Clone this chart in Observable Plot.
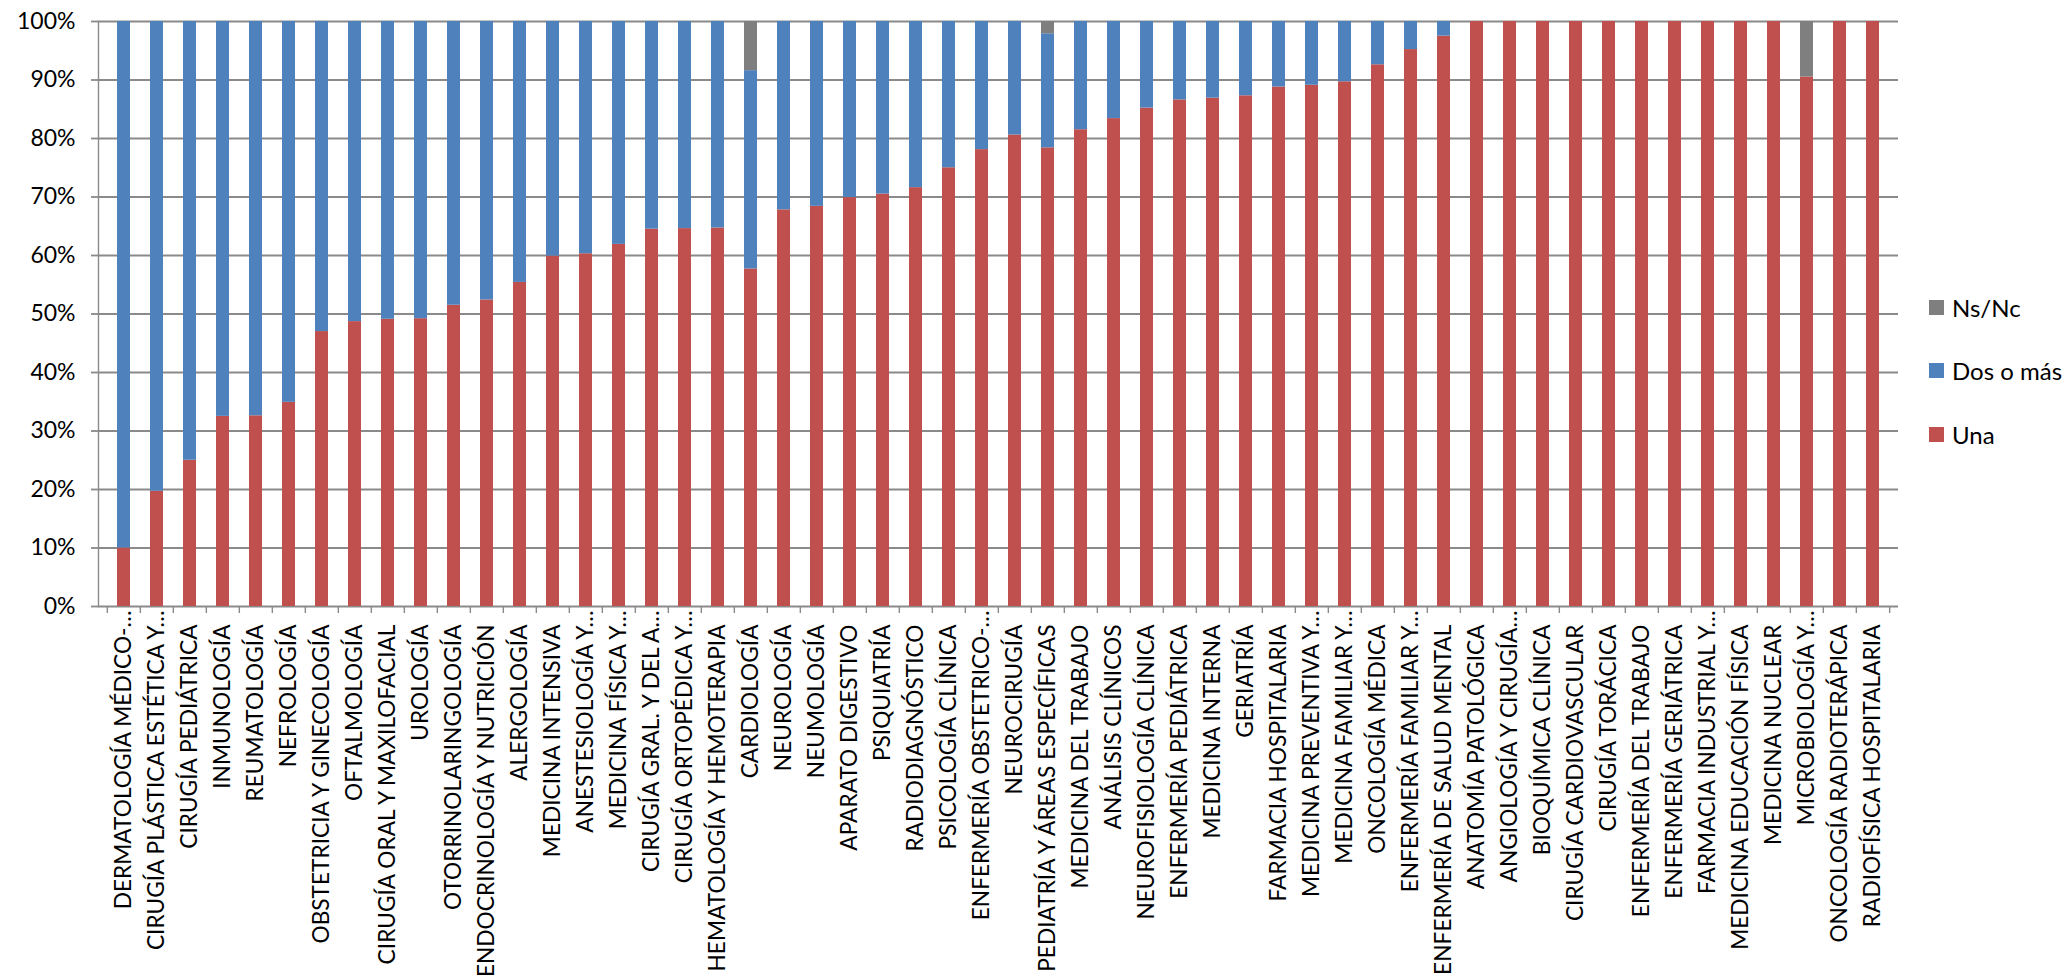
<!DOCTYPE html>
<html>
<head>
<meta charset="utf-8">
<script src="https://cdn.jsdelivr.net/npm/d3@7"></script>
<script src="https://cdn.jsdelivr.net/npm/@observablehq/plot@0.6"></script>
<style>
  body { margin: 0; background: #fff; }
  #wrap { position: relative; width: 2065px; height: 977px; overflow: hidden; }
  #wrap svg { position: absolute; left: 0; top: 0; }
  #legend { position: absolute; left: 1929px; top: 0; font-family: Lato, "Open Sans", sans-serif; font-size: 24px; color: #000; }
  .item { position: absolute; display: flex; align-items: center; height: 30px; white-space: nowrap; }
  .sw { width: 15px; height: 15px; margin-right: 8px; flex: none; }
</style>
</head>
<body>
<div id="wrap"><div id="legend"></div></div>
<script>
const categories = [
  "DERMATOLOGÍA MÉDICO-…", "CIRUGÍA PLÁSTICA ESTÉTICA Y…", "CIRUGÍA PEDIÁTRICA", "INMUNOLOGÍA",
  "REUMATOLOGÍA", "NEFROLOGÍA", "OBSTETRICIA Y GINECOLOGÍA", "OFTALMOLOGÍA",
  "CIRUGÍA ORAL Y MAXILOFACIAL", "UROLOGÍA", "OTORRINOLARINGOLOGÍA", "ENDOCRINOLOGÍA Y NUTRICIÓN",
  "ALERGOLOGÍA", "MEDICINA INTENSIVA", "ANESTESIOLOGÍA Y…", "MEDICINA FÍSICA Y…",
  "CIRUGÍA GRAL. Y DEL A…", "CIRUGÍA ORTOPÉDICA Y…", "HEMATOLOGÍA Y HEMOTERAPIA", "CARDIOLOGÍA",
  "NEUROLOGÍA", "NEUMOLOGÍA", "APARATO DIGESTIVO", "PSIQUIATRÍA",
  "RADIODIAGNÓSTICO", "PSICOLOGÍA CLÍNICA", "ENFERMERÍA OBSTETRICO-…", "NEUROCIRUGÍA",
  "PEDIATRÍA Y ÁREAS ESPECÍFICAS", "MEDICINA DEL TRABAJO", "ANÁLISIS CLÍNICOS", "NEUROFISIOLOGÍA CLÍNICA",
  "ENFERMERÍA PEDIÁTRICA", "MEDICINA INTERNA", "GERIATRÍA", "FARMACIA HOSPITALARIA",
  "MEDICINA PREVENTIVA Y…", "MEDICINA FAMILIAR Y…", "ONCOLOGÍA MÉDICA", "ENFERMERÍA FAMILIAR Y…",
  "ENFERMERÍA DE SALUD MENTAL", "ANATOMÍA PATOLÓGICA", "ANGIOLOGÍA Y CIRUGÍA…", "BIOQUÍMICA CLÍNICA",
  "CIRUGÍA CARDIOVASCULAR", "CIRUGÍA TORÁCICA", "ENFERMERÍA DEL TRABAJO", "ENFERMERÍA GERIÁTRICA",
  "FARMACIA INDUSTRIAL Y…", "MEDICINA EDUCACIÓN FÍSICA", "MEDICINA NUCLEAR", "MICROBIOLOGÍA Y…",
  "ONCOLOGÍA RADIOTERÁPICA", "RADIOFÍSICA HOSPITALARIA"
];
// percentages
const una = [
  10, 19.7, 25, 32.5, 32.6, 34.9, 47.0, 48.7,
  49.1, 49.2, 51.5, 52.4, 55.4, 59.9, 60.3, 61.9,
  64.5, 64.6, 64.7, 57.7, 67.8, 68.4, 69.9, 70.5,
  71.6, 75.0, 78.1, 80.6, 78.4, 81.5, 83.4, 85.2,
  86.6, 86.9, 87.3, 88.8, 89.1, 89.7, 92.6, 95.2,
  97.5, 100, 100, 100, 100, 100, 100, 100,
  100, 100, 100, 90.5, 100, 100
];
const dos = [
  90, 80.3, 75, 67.5, 67.4, 65.1, 53.0, 51.3,
  50.9, 50.8, 48.5, 47.6, 44.6, 40.1, 39.7, 38.1,
  35.5, 35.4, 35.3, 33.9, 32.2, 31.6, 30.1, 29.5,
  28.4, 25.0, 21.9, 19.4, 19.5, 18.5, 16.6, 14.8,
  13.4, 13.1, 12.7, 11.2, 10.9, 10.3, 7.4, 4.8,
  2.5, 0, 0, 0, 0, 0, 0, 0,
  0, 0, 0, 0, 0, 0
];
const ns = [
  0, 0, 0, 0, 0, 0, 0, 0,
  0, 0, 0, 0, 0, 0, 0, 0,
  0, 0, 0, 8.4, 0, 0, 0, 0,
  0, 0, 0, 0, 2.1, 0, 0, 0,
  0, 0, 0, 0, 0, 0, 0, 0,
  0, 0, 0, 0, 0, 0, 0, 0,
  0, 0, 0, 9.5, 0, 0
];
const series = ["Una", "Dos o más", "Ns/Nc"];
const colors = ["#C0504D", "#4F81BD", "#7F7F7F"];
const yTicks = [0, 0.1, 0.2, 0.3, 0.4, 0.5, 0.6, 0.7, 0.8, 0.9, 1];

const W = 2065, H = 977, ml = 98, mr = 167, mt = 21, mb = 371;
const step = (W - ml - mr) / categories.length;
const gridColor = "#8a8a8a";
const labelFont = "Lato";

const data = categories.flatMap((c, i) => [
  {cat: c, serie: "Una", v: una[i] / 100},
  {cat: c, serie: "Dos o más", v: dos[i] / 100},
  {cat: c, serie: "Ns/Nc", v: ns[i] / 100}
]);
const truncated = categories.filter(c => c.endsWith("…"));
const full = categories.filter(c => !c.endsWith("…"));

const chart = Plot.plot({
  width: W, height: H,
  marginLeft: ml, marginRight: mr, marginTop: mt, marginBottom: mb,
  style: {background: "transparent", overflow: "visible", fontFamily: labelFont},
  x: {domain: categories, paddingInner: 0.62, paddingOuter: 0.31, align: 0.5},
  y: {domain: [0, 1]},
  color: {domain: series, range: colors},
  marks: [
    Plot.gridY(yTicks, {stroke: gridColor, strokeOpacity: 1, strokeWidth: 1.8}),
    Plot.axisY(yTicks, {tickSize: 7, tickPadding: 16, tickFormat: d3.format(".0%"), label: null,
      fontSize: 23, fontFamily: labelFont, stroke: gridColor, strokeWidth: 1.8, fill: "#000"}),
    Plot.barY(data, {x: "cat", y: "v", fill: "serie", order: series}),
    Plot.frame({anchor: "left", stroke: gridColor, strokeWidth: 1.4}),
    Plot.ruleX(categories, {x: d => d, y1: 0, y2: -0.012, dx: -step / 2, stroke: gridColor, strokeWidth: 1.4}),
    Plot.ruleX(categories.slice(-1), {x: d => d, y1: 0, y2: -0.012, dx: step / 2, stroke: gridColor, strokeWidth: 1.4}),
    Plot.axisX(full, {tickRotate: -90, tickSize: 0, tickPadding: 18, fontSize: 22.7,
      fontFamily: labelFont, fill: "#000", label: null}),
    Plot.axisX(truncated, {tickRotate: -90, tickSize: 0, tickPadding: 4, fontSize: 22.7,
      fontFamily: labelFont, fill: "#000", label: null})
  ]
});
document.getElementById("wrap").prepend(chart);

const legend = document.getElementById("legend");
const legendOrder = ["Ns/Nc", "Dos o más", "Una"];
legendOrder.forEach((s, i) => {
  const it = document.createElement("div");
  it.className = "item";
  it.style.top = (292 + i * 63.5) + "px";
  const sw = document.createElement("div");
  sw.className = "sw";
  sw.style.background = colors[series.indexOf(s)];
  const t = document.createElement("span");
  t.textContent = s;
  it.append(sw, t);
  legend.append(it);
});
</script>
</body>
</html>
